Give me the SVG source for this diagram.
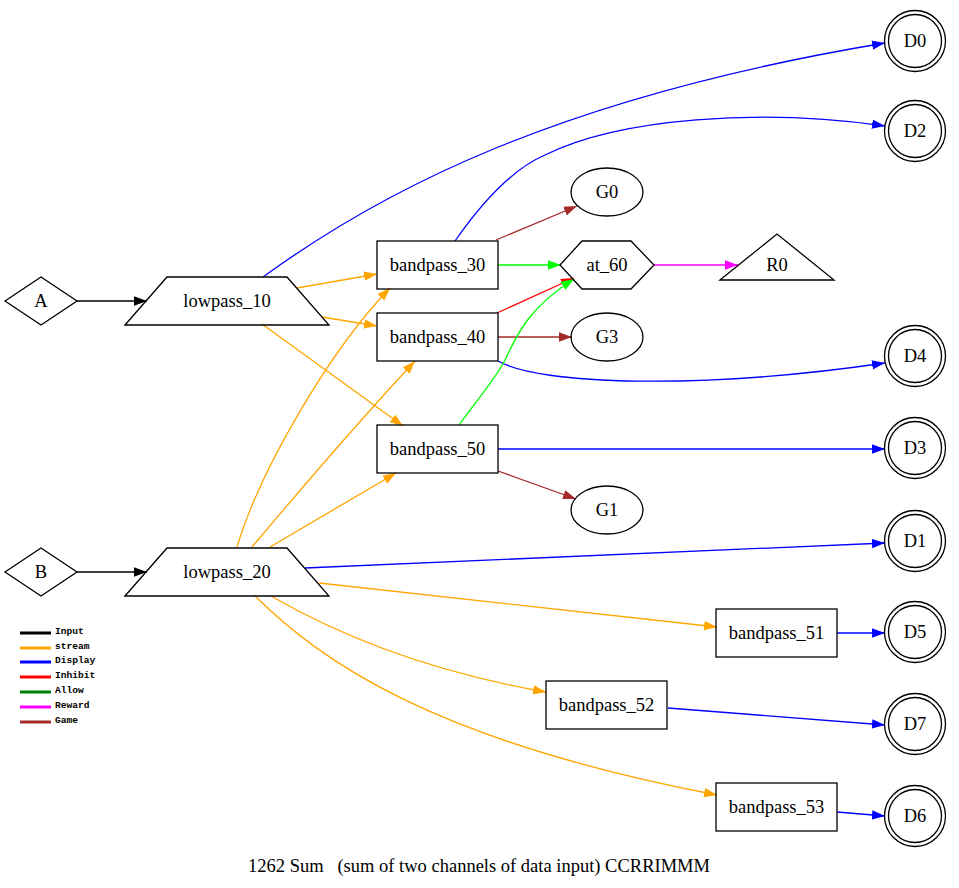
<svg xmlns="http://www.w3.org/2000/svg" width="959" height="888" viewBox="0 0 959 888">
<style>
.n{fill:none;stroke:#000;stroke-width:1.3}
.t{font-family:'Liberation Serif','DejaVu Serif','Times New Roman',Times,serif;font-size:18.5px;fill:#000;text-anchor:middle}
.e{fill:none;stroke-width:1.3}
.lg{font-family:'Liberation Mono','Courier New',monospace;font-size:9.6px;font-weight:bold;fill:#000}
</style>
<defs>
<marker id="mk" markerWidth="14" markerHeight="10" refX="13" refY="5" orient="auto" markerUnits="userSpaceOnUse"><path d="M0,0.3 L13,5 L0,9.7z" fill="#000"/></marker>
<marker id="mo" markerWidth="14" markerHeight="10" refX="13" refY="5" orient="auto" markerUnits="userSpaceOnUse"><path d="M0,0.3 L13,5 L0,9.7z" fill="#ffa500"/></marker>
<marker id="mb" markerWidth="14" markerHeight="10" refX="13" refY="5" orient="auto" markerUnits="userSpaceOnUse"><path d="M0,0.3 L13,5 L0,9.7z" fill="#0000ff"/></marker>
<marker id="mr" markerWidth="14" markerHeight="10" refX="13" refY="5" orient="auto" markerUnits="userSpaceOnUse"><path d="M0,0.3 L13,5 L0,9.7z" fill="#ff0000"/></marker>
<marker id="mg" markerWidth="14" markerHeight="10" refX="13" refY="5" orient="auto" markerUnits="userSpaceOnUse"><path d="M0,0.3 L13,5 L0,9.7z" fill="#00ff00"/></marker>
<marker id="mm" markerWidth="14" markerHeight="10" refX="13" refY="5" orient="auto" markerUnits="userSpaceOnUse"><path d="M0,0.3 L13,5 L0,9.7z" fill="#ff00ff"/></marker>
<marker id="mw" markerWidth="14" markerHeight="10" refX="13" refY="5" orient="auto" markerUnits="userSpaceOnUse"><path d="M0,0.3 L13,5 L0,9.7z" fill="#a52a2a"/></marker>
</defs>
<rect width="959" height="888" fill="#fff"/>

<g id="connectors">
<path class="e" stroke="#000" marker-end="url(#mk)" d="M77,301 L147,301"/>
<path class="e" stroke="#000" marker-end="url(#mk)" d="M77,572 L147,572"/>
<path class="e" stroke="#0000ff" marker-end="url(#mb)" d="M263,277 C380,192 555,98 885,43"/>
<path class="e" stroke="#ffa500" marker-end="url(#mo)" d="M297,288 L377,274"/>
<path class="e" stroke="#ffa500" marker-end="url(#mo)" d="M322,317 L377,326"/>
<path class="e" stroke="#ffa500" marker-end="url(#mo)" d="M262,324 L403,426"/>
<path class="e" stroke="#ffa500" marker-end="url(#mo)" d="M237,547 C260,470 330,350 390,288"/>
<path class="e" stroke="#ffa500" marker-end="url(#mo)" d="M252,547 C300,490 360,420 415,361"/>
<path class="e" stroke="#ffa500" marker-end="url(#mo)" d="M270,547 L396,473"/>
<path class="e" stroke="#0000ff" marker-end="url(#mb)" d="M305,568 L885,543"/>
<path class="e" stroke="#ffa500" marker-end="url(#mo)" d="M319,583 L717,627"/>
<path class="e" stroke="#ffa500" marker-end="url(#mo)" d="M271,596 C330,630 420,670 546,692"/>
<path class="e" stroke="#ffa500" marker-end="url(#mo)" d="M255,596 C320,660 430,740 717,795"/>
<path class="e" stroke="#0000ff" marker-end="url(#mb)" d="M455,241 C480,205 510,170 545,155 C620,118 760,108 885,126"/>
<path class="e" stroke="#a52a2a" marker-end="url(#mw)" d="M496,240 L577,206"/>
<path class="e" stroke="#00ff00" marker-end="url(#mg)" d="M498,265 L561,265"/>
<path class="e" stroke="#ff0000" marker-end="url(#mr)" d="M497,313 L574,278"/>
<path class="e" stroke="#a52a2a" marker-end="url(#mw)" d="M498,337 L572,337"/>
<path class="e" stroke="#0000ff" marker-end="url(#mb)" d="M498,361 C540,385 700,390 885,363"/>
<path class="e" stroke="#00ff00" marker-end="url(#mg)" d="M459,425 C475,402 495,380 505,360 C515,340 525,310 574,279"/>
<path class="e" stroke="#0000ff" marker-end="url(#mb)" d="M498,449 L885,449"/>
<path class="e" stroke="#a52a2a" marker-end="url(#mw)" d="M498,471 L576,499"/>
<path class="e" stroke="#ff00ff" marker-end="url(#mm)" d="M654,265 L738,265"/>
<path class="e" stroke="#0000ff" marker-end="url(#mb)" d="M837,633 L885,633"/>
<path class="e" stroke="#0000ff" marker-end="url(#mb)" d="M668,708 L885,725"/>
<path class="e" stroke="#0000ff" marker-end="url(#mb)" d="M837,812 L885,816"/>
</g>

<g id="A"><polygon class="n" points="5,301 41,277 77,301 41,325"/><text class="t" x="41" y="307">A</text></g>
<g id="B"><polygon class="n" points="5,572 41,548 77,572 41,596"/><text class="t" x="41" y="578">B</text></g>
<g id="lowpass_10"><polygon class="n" points="125,325 167,277 287,277 329,325"/><text class="t" x="227" y="307">lowpass_10</text></g>
<g id="lowpass_20"><polygon class="n" points="125,596 167,548 287,548 329,596"/><text class="t" x="227" y="578">lowpass_20</text></g>
<g id="bandpass_30"><rect class="n" x="377" y="241" width="121" height="48"/><text class="t" x="437.5" y="271">bandpass_30</text></g>
<g id="bandpass_40"><rect class="n" x="377" y="313" width="121" height="48"/><text class="t" x="437.5" y="343">bandpass_40</text></g>
<g id="bandpass_50"><rect class="n" x="377" y="425" width="121" height="48"/><text class="t" x="437.5" y="455">bandpass_50</text></g>
<g id="bandpass_51"><rect class="n" x="716" y="609" width="121" height="48"/><text class="t" x="776.5" y="639">bandpass_51</text></g>
<g id="bandpass_52"><rect class="n" x="546" y="681" width="121" height="48"/><text class="t" x="606.5" y="711">bandpass_52</text></g>
<g id="bandpass_53"><rect class="n" x="716" y="783" width="121" height="48"/><text class="t" x="776.5" y="813">bandpass_53</text></g>
<g id="at_60"><polygon class="n" points="560,265 582,241 631,241 654,265 631,289 582,289"/><text class="t" x="607" y="271">at_60</text></g>
<g id="G0"><ellipse class="n" cx="607" cy="192" rx="36" ry="24"/><text class="t" x="607" y="198">G0</text></g>
<g id="G3"><ellipse class="n" cx="607" cy="337" rx="36" ry="24"/><text class="t" x="607" y="343">G3</text></g>
<g id="G1"><ellipse class="n" cx="607" cy="510" rx="36" ry="24"/><text class="t" x="607" y="516">G1</text></g>
<g id="R0"><polygon class="n" points="720,280 777,234 834,280"/><text class="t" x="777" y="271">R0</text></g>
<g id="D0"><circle class="n" cx="915" cy="41" r="30.5"/><circle class="n" cx="915" cy="41" r="26.5"/><text class="t" x="915" y="47">D0</text></g>
<g id="D2"><circle class="n" cx="915" cy="131" r="30.5"/><circle class="n" cx="915" cy="131" r="26.5"/><text class="t" x="915" y="137">D2</text></g>
<g id="D4"><circle class="n" cx="915" cy="356" r="30.5"/><circle class="n" cx="915" cy="356" r="26.5"/><text class="t" x="915" y="362">D4</text></g>
<g id="D3"><circle class="n" cx="915" cy="448" r="30.5"/><circle class="n" cx="915" cy="448" r="26.5"/><text class="t" x="915" y="454">D3</text></g>
<g id="D1"><circle class="n" cx="915" cy="541" r="30.5"/><circle class="n" cx="915" cy="541" r="26.5"/><text class="t" x="915" y="547">D1</text></g>
<g id="D5"><circle class="n" cx="915" cy="632" r="30.5"/><circle class="n" cx="915" cy="632" r="26.5"/><text class="t" x="915" y="638">D5</text></g>
<g id="D7"><circle class="n" cx="915" cy="724" r="30.5"/><circle class="n" cx="915" cy="724" r="26.5"/><text class="t" x="915" y="730">D7</text></g>
<g id="D6"><circle class="n" cx="915" cy="816" r="30.5"/><circle class="n" cx="915" cy="816" r="26.5"/><text class="t" x="915" y="822">D6</text></g>

<g id="legend">
<line x1="20" y1="633" x2="51" y2="633" stroke="#000" stroke-width="3"/><text class="lg" x="55" y="634">Input</text>
<line x1="20" y1="648" x2="51" y2="648" stroke="#ffa500" stroke-width="3"/><text class="lg" x="55" y="649">stream</text>
<line x1="20" y1="662" x2="51" y2="662" stroke="#0000ff" stroke-width="3"/><text class="lg" x="55" y="663">Display</text>
<line x1="20" y1="677" x2="51" y2="677" stroke="#ff0000" stroke-width="3"/><text class="lg" x="55" y="678">Inhibit</text>
<line x1="20" y1="692" x2="51" y2="692" stroke="#008000" stroke-width="3"/><text class="lg" x="55" y="693">Allow</text>
<line x1="20" y1="707" x2="51" y2="707" stroke="#ff00ff" stroke-width="3"/><text class="lg" x="55" y="708">Reward</text>
<line x1="20" y1="722" x2="51" y2="722" stroke="#a52a2a" stroke-width="3"/><text class="lg" x="55" y="723">Game</text>
</g>

<text class="t" x="479" y="872" xml:space="preserve">1262 Sum   (sum of two channels of data input) CCRRIMMM</text>
</svg>
